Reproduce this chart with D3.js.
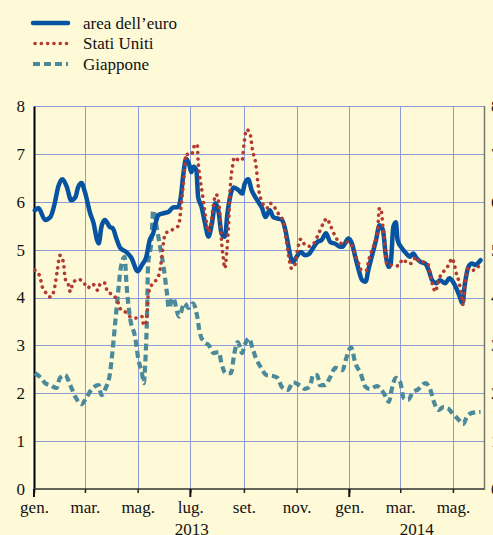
<!DOCTYPE html>
<html><head><meta charset="utf-8">
<script src="https://cdn.jsdelivr.net/npm/d3@7"></script>
<style>html,body{margin:0;padding:0;background:#fef9d7;overflow:hidden}svg{display:block}</style>
</head><body>
<script>
// ---- data ----
const seriesNames = ["area dell\u2019euro", "Stati Uniti", "Giappone"];

const euroDates = ["2013-01-02","2013-01-06","2013-01-14","2013-01-20","2013-01-25","2013-01-29","2013-02-03","2013-02-08","2013-02-13","2013-02-18","2013-02-21","2013-02-25","2013-03-01","2013-03-07","2013-03-11","2013-03-15","2013-03-17","2013-03-20","2013-03-24","2013-03-30","2013-04-02","2013-04-07","2013-04-11","2013-04-18","2013-04-24","2013-05-01","2013-05-06","2013-05-11","2013-05-15","2013-05-19","2013-05-22","2013-05-25","2013-05-31","2013-06-06","2013-06-11","2013-06-17","2013-06-20","2013-06-23","2013-06-26","2013-06-30","2013-07-02","2013-07-05","2013-07-08","2013-07-10","2013-07-14","2013-07-18","2013-07-22","2013-07-26","2013-07-30","2013-08-03","2013-08-06","2013-08-10","2013-08-13","2013-08-16","2013-08-20","2013-08-26","2013-08-30","2013-09-02","2013-09-06","2013-09-10","2013-09-14","2013-09-18","2013-09-22","2013-09-26","2013-10-01","2013-10-05","2013-10-10","2013-10-15","2013-10-19","2013-10-22","2013-10-25","2013-10-28","2013-11-01","2013-11-06","2013-11-11","2013-11-16","2013-11-20","2013-11-25","2013-11-30","2013-12-05","2013-12-10","2013-12-16","2013-12-21","2013-12-24","2013-12-31","2014-01-04","2014-01-08","2014-01-12","2014-01-16","2014-01-20","2014-01-23","2014-01-27","2014-02-01","2014-02-05","2014-02-09","2014-02-12","2014-02-16","2014-02-18","2014-02-21","2014-02-24","2014-02-26","2014-03-03","2014-03-08","2014-03-12","2014-03-16","2014-03-20","2014-03-25","2014-03-30","2014-04-03","2014-04-07","2014-04-12","2014-04-16","2014-04-22","2014-04-27","2014-05-02","2014-05-06","2014-05-09","2014-05-12","2014-05-15","2014-05-19","2014-05-23","2014-05-27","2014-05-31","2014-06-02"];
const euroValues = [5.82,5.87,5.62,5.68,5.97,6.31,6.47,6.31,6.03,6.10,6.30,6.39,6.20,5.76,5.55,5.20,5.13,5.47,5.62,5.47,5.45,5.20,5.03,4.95,4.82,4.55,4.68,4.85,5.20,5.34,5.57,5.72,5.76,5.79,5.88,5.89,6.10,6.59,6.90,6.76,6.62,6.73,6.66,6.10,5.89,5.55,5.27,5.55,5.97,5.76,5.34,5.27,5.76,6.10,6.30,6.24,6.17,6.38,6.47,6.24,6.10,5.99,5.87,5.68,5.82,5.68,5.65,5.62,5.41,5.13,4.85,4.74,4.85,4.95,4.88,4.92,5.03,5.16,5.20,5.34,5.16,5.12,5.06,5.06,5.23,5.13,4.85,4.57,4.36,4.33,4.57,4.85,5.20,5.51,5.41,4.92,4.64,4.71,5.47,5.57,5.20,5.03,4.92,4.85,4.92,4.82,4.74,4.71,4.57,4.36,4.30,4.36,4.30,4.40,4.30,4.15,4.01,3.88,4.30,4.64,4.71,4.68,4.74,4.78];

const usDates = ["2013-01-02","2013-01-08","2013-01-10","2013-01-14","2013-01-20","2013-01-23","2013-01-25","2013-01-28","2013-01-31","2013-02-04","2013-02-06","2013-02-10","2013-02-12","2013-02-15","2013-02-21","2013-02-27","2013-03-04","2013-03-10","2013-03-16","2013-03-19","2013-03-24","2013-03-27","2013-04-03","2013-04-08","2013-04-11","2013-04-18","2013-04-22","2013-04-29","2013-05-06","2013-05-08","2013-05-11","2013-05-12","2013-05-13","2013-05-16","2013-05-21","2013-05-26","2013-05-29","2013-05-31","2013-06-02","2013-06-08","2013-06-13","2013-06-18","2013-06-19","2013-06-21","2013-06-23","2013-06-25","2013-06-26","2013-06-29","2013-07-03","2013-07-06","2013-07-09","2013-07-10","2013-07-12","2013-07-15","2013-07-17","2013-07-20","2013-07-22","2013-07-25","2013-07-28","2013-07-31","2013-08-04","2013-08-06","2013-08-08","2013-08-10","2013-08-12","2013-08-14","2013-08-16","2013-08-19","2013-08-21","2013-08-26","2013-08-30","2013-09-01","2013-09-04","2013-09-08","2013-09-11","2013-09-15","2013-09-18","2013-09-22","2013-09-28","2013-10-01","2013-10-07","2013-10-12","2013-10-16","2013-10-20","2013-10-23","2013-10-26","2013-10-30","2013-11-02","2013-11-06","2013-11-11","2013-11-15","2013-11-21","2013-11-25","2013-12-02","2013-12-06","2013-12-10","2013-12-16","2013-12-22","2013-12-29","2014-01-05","2014-01-08","2014-01-12","2014-01-15","2014-01-21","2014-01-23","2014-01-26","2014-01-29","2014-02-01","2014-02-03","2014-02-04","2014-02-05","2014-02-07","2014-02-09","2014-02-11","2014-02-12","2014-02-14","2014-02-18","2014-02-27","2014-03-04","2014-03-10","2014-03-13","2014-03-20","2014-03-23","2014-03-29","2014-04-02","2014-04-04","2014-04-07","2014-04-11","2014-04-13","2014-04-16","2014-04-20","2014-04-23","2014-04-27","2014-04-30","2014-05-03","2014-05-05","2014-05-08","2014-05-10","2014-05-13","2014-05-15","2014-05-19","2014-05-24","2014-05-29","2014-06-02"];
const usValues = [4.57,4.43,4.26,4.12,4.01,4.08,4.22,4.57,4.88,4.74,4.40,4.26,4.12,4.30,4.38,4.33,4.20,4.28,4.15,4.30,4.30,4.12,4.05,3.91,3.76,3.68,3.60,3.57,3.60,3.42,3.49,3.67,4.01,4.22,4.33,4.50,4.85,5.16,5.34,5.39,5.45,5.51,5.68,6.03,6.39,6.83,7.01,6.97,7.01,7.18,7.20,6.87,6.52,6.17,5.89,5.55,5.37,5.57,5.97,6.15,5.82,5.20,4.85,4.61,4.92,5.41,6.24,6.76,6.93,6.87,6.87,7.18,7.51,7.43,7.08,6.76,6.28,5.99,5.87,5.97,5.87,5.72,5.62,5.23,4.85,4.61,4.68,4.99,5.22,5.09,5.07,5.13,5.27,5.55,5.65,5.51,5.27,5.13,5.16,5.06,4.88,4.71,4.57,4.57,4.74,4.92,5.06,5.23,5.41,5.72,5.87,5.82,5.47,5.13,4.85,4.68,4.68,4.66,4.80,4.71,4.71,4.85,4.74,4.74,4.70,4.55,4.30,4.12,4.26,4.43,4.54,4.59,4.72,4.82,4.66,4.50,4.33,4.15,3.84,4.30,4.61,4.57,4.61,4.74];

const japanDates = ["2013-01-02","2013-01-08","2013-01-14","2013-01-20","2013-01-27","2013-01-31","2013-02-06","2013-02-12","2013-02-18","2013-02-25","2013-03-03","2013-03-09","2013-03-17","2013-03-20","2013-03-25","2013-03-30","2013-04-02","2013-04-05","2013-04-09","2013-04-11","2013-04-16","2013-04-18","2013-04-22","2013-04-28","2013-05-02","2013-05-06","2013-05-08","2013-05-10","2013-05-12","2013-05-13","2013-05-17","2013-05-19","2013-05-23","2013-05-27","2013-05-31","2013-06-04","2013-06-06","2013-06-11","2013-06-18","2013-06-24","2013-06-29","2013-07-04","2013-07-09","2013-07-12","2013-07-17","2013-07-22","2013-07-28","2013-08-03","2013-08-06","2013-08-11","2013-08-17","2013-08-21","2013-08-25","2013-08-30","2013-09-02","2013-09-07","2013-09-11","2013-09-15","2013-09-21","2013-09-27","2013-10-05","2013-10-10","2013-10-15","2013-10-22","2013-10-28","2013-11-04","2013-11-11","2013-11-17","2013-11-20","2013-11-25","2013-11-28","2013-12-04","2013-12-10","2013-12-16","2013-12-24","2013-12-29","2014-01-03","2014-01-08","2014-01-14","2014-01-20","2014-01-25","2014-02-02","2014-02-10","2014-02-16","2014-02-19","2014-02-24","2014-03-01","2014-03-05","2014-03-10","2014-03-16","2014-03-21","2014-03-30","2014-04-05","2014-04-09","2014-04-14","2014-04-20","2014-04-25","2014-04-30","2014-05-06","2014-05-13","2014-05-17","2014-05-23","2014-06-02"];
const japanValues = [2.42,2.34,2.21,2.17,2.11,2.32,2.38,2.17,1.92,1.77,1.92,2.09,2.17,1.96,2.11,2.42,2.90,3.47,4.22,4.57,4.85,4.30,3.60,3.18,2.69,2.42,2.21,2.69,3.74,4.64,5.20,5.82,5.47,5.06,4.64,4.08,3.78,3.99,3.60,3.88,3.78,3.88,3.60,3.26,3.07,3.01,2.84,2.86,2.63,2.42,2.42,2.84,3.07,2.84,3.01,3.15,2.94,2.73,2.53,2.38,2.36,2.32,2.13,2.07,2.23,2.17,2.09,2.17,2.38,2.38,2.17,2.17,2.34,2.53,2.48,2.76,2.96,2.63,2.42,2.13,2.09,2.15,2.00,1.82,2.07,2.32,2.23,1.90,1.86,2.03,2.07,2.21,2.07,1.82,1.65,1.71,1.69,1.59,1.48,1.36,1.50,1.59,1.61];

const yTicks = [0,1,2,3,4,5,6,7,8];
const monthTickDates = ["2013-01-01","2013-03-01","2013-05-01","2013-07-01","2013-09-01","2013-11-01","2014-01-01","2014-03-01","2014-05-01"];
const monthTickLabels = ["gen.","mar.","mag.","lug.","set.","nov.","gen.","mar.","mag."];
const majorTickDates = ["2013-01-01","2013-07-01","2014-01-01"];
const yearLabels = ["2013","2014"];
const yearSpans = [["2013-01-01","2014-01-01"],["2014-01-01","2014-06-06"]];
const xDomain = ["2013-01-01","2014-06-06"];

// ---- drawing ----
const W = 493, H = 535;
const parse = d3.utcParse("%Y-%m-%d");
const svg = d3.select("body").append("svg").attr("width", W).attr("height", H);
svg.append("rect").attr("width", W).attr("height", H).attr("fill", "#fef9d7");

const x = d3.scaleUtc().domain(xDomain.map(parse)).range([34, 484]);
const y = d3.scaleLinear().domain([0, 8]).range([489, 106]);
const font = "'Liberation Serif','Times New Roman',serif";
const gridColor = "#8d9bd6";

// horizontal grid
svg.append("g").selectAll("line").data(yTicks.filter(d => d > 0)).join("line")
  .attr("x1", 34).attr("x2", 484)
  .attr("y1", d => Math.round(y(d)) + 0.5).attr("y2", d => Math.round(y(d)) + 0.5)
  .attr("stroke", gridColor).attr("stroke-width", 1);
// vertical grid
svg.append("g").selectAll("line").data(monthTickDates.slice(1)).join("line")
  .attr("x1", d => Math.round(x(parse(d))) + 0.5).attr("x2", d => Math.round(x(parse(d))) + 0.5)
  .attr("y1", 106).attr("y2", 489)
  .attr("stroke", gridColor).attr("stroke-width", 1);

// right frame
svg.append("line").attr("x1", 484.5).attr("x2", 484.5).attr("y1", 106).attr("y2", 490)
  .attr("stroke", "#7a7a70").attr("stroke-width", 1.5);

// left axis
const yAxisL = d3.axisLeft(y).tickValues(yTicks).tickSize(0).tickPadding(9).tickFormat(d3.format("d"));
const gL = svg.append("g").attr("transform", "translate(34,0)").call(yAxisL);
gL.select(".domain").attr("stroke", "#000").attr("stroke-width", 2);
gL.selectAll("text").attr("font-family", font).attr("font-size", 17).attr("fill", "#111");
svg.append("line").attr("x1", 32).attr("x2", 32).attr("y1", 106).attr("y2", 493).attr("stroke", "#fff").attr("stroke-width", 1);

// right axis (labels partly outside view)
const yAxisR = d3.axisRight(y).tickValues(yTicks).tickSize(0).tickPadding(6).tickFormat(d3.format("d"));
const gR = svg.append("g").attr("transform", "translate(485,0)").call(yAxisR);
gR.select(".domain").remove();
gR.selectAll("text").attr("font-family", font).attr("font-size", 17).attr("fill", "#111");

// bottom axis
const xAxis = d3.axisBottom(x).tickValues(monthTickDates.map(parse)).tickSize(4).tickPadding(8)
  .tickFormat((d, i) => monthTickLabels[i]);
const gB = svg.append("g").attr("transform", "translate(0,489)").call(xAxis);
gB.select(".domain").attr("stroke", "#333").attr("stroke-width", 1.5).attr("d", "M34,0H484");
gB.selectAll(".tick line").attr("stroke", "#222").attr("stroke-width", 1.5);
gB.selectAll("text").attr("font-family", font).attr("font-size", 17).attr("fill", "#111");
svg.append("g").selectAll("line").data(majorTickDates).join("line")
  .attr("x1", d => x(parse(d))).attr("x2", d => x(parse(d)))
  .attr("y1", 489).attr("y2", 497).attr("stroke", "#111").attr("stroke-width", 2);

// year labels
svg.append("g").selectAll("text").data(yearLabels).join("text")
  .attr("x", (d, i) => (x(parse(yearSpans[i][0])) + x(parse(yearSpans[i][1]))) / 2)
  .attr("y", 535).attr("text-anchor", "middle")
  .attr("font-family", font).attr("font-size", 17).attr("fill", "#111").text(d => d);

// series
const styles = [
  {color: "#0553a1", width: 4.5, dash: null, cap: "round"},
  {color: "#b23a30", width: 3.6, dash: "0.1 6.2", cap: "round"},
  {color: "#4b8a9b", width: 4.2, dash: "7 4", cap: "butt"}
];
const allSeries = [
  {dates: japanDates, values: japanValues, s: styles[2]},
  {dates: euroDates, values: euroValues, s: styles[0]},
  {dates: usDates, values: usValues, s: styles[1]}
];
const line = d3.line().x(d => x(d[0])).y(d => y(d[1])).curve(d3.curveMonotoneX);
allSeries.forEach(sr => {
  const pts = sr.dates.map((d, i) => [parse(d), sr.values[i]]);
  svg.append("path").attr("d", line(pts)).attr("fill", "none")
    .attr("stroke", sr.s.color).attr("stroke-width", sr.s.width)
    .attr("stroke-linecap", sr.s.cap).attr("stroke-linejoin", "round")
    .attr("stroke-dasharray", sr.s.dash);
});

// legend
const leg = svg.append("g");
seriesNames.forEach((name, i) => {
  const ly = 23 + i * 20.5;
  leg.append("line").attr("x1", i === 1 ? 35 : 33).attr("x2", 68).attr("y1", ly).attr("y2", ly)
    .attr("stroke", styles[i].color).attr("stroke-width", styles[i].width)
    .attr("stroke-linecap", styles[i].cap).attr("stroke-dasharray", styles[i].dash);
  leg.append("text").attr("x", 83).attr("y", ly + 5.5).attr("font-family", font)
    .attr("font-size", 17).attr("fill", "#111").text(name);
});
</script>
</body></html>
